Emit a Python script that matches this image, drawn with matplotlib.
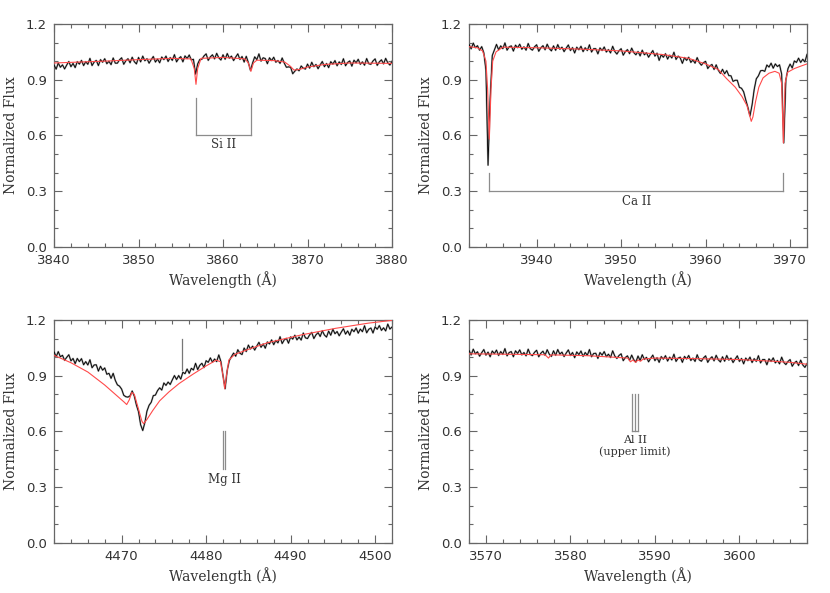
import numpy as np
import matplotlib
matplotlib.use('Agg')
from matplotlib import pyplot as plt
from matplotlib.ticker import MultipleLocator, FormatStrFormatter

# observed spectra: flux in units of 1e-3, on a regular 0.25 A pixel grid
# ---- Si II panel (3840-3880) ----
w1_start, w1_step = 3840.0, 0.25
flux1 = [979, 957, 990, 967, 980, 958, 979, 998, 970, 988,
         965, 997, 984, 1004, 976, 997, 983, 1015, 976, 995,
         1004, 976, 1008, 994, 1013, 986, 999, 981, 1017, 989,
         989, 1007, 1018, 983, 1002, 1013, 991, 1021, 997, 985,
         1020, 996, 1027, 1002, 1013, 989, 1008, 1025, 995, 1011,
         991, 1022, 1008, 1027, 998, 1019, 1004, 1035, 996, 1014,
         1024, 996, 1028, 1014, 1033, 1006, 1010, 930, 985, 1009,
         1010, 1028, 1039, 1004, 1023, 1034, 1012, 1042, 1018, 1006,
         1034, 1010, 1041, 1016, 1027, 1003, 1022, 1039, 1009, 1025,
         995, 1026, 992, 950, 990, 1023, 1008, 1039, 1000, 1018,
         1014, 986, 1018, 1003, 1021, 994, 1003, 988, 1017, 989,
         967, 969, 967, 932, 946, 958, 948, 974, 962, 957,
         984, 962, 994, 970, 982, 959, 980, 998, 970, 987,
         965, 997, 984, 1003, 975, 996, 982, 1013, 975, 993,
         1001, 973, 1005, 991, 1010, 983, 996, 978, 1014, 986,
         983, 1001, 1012, 977, 996, 1007, 985, 1015, 991, 979, 999]
model1_w = [3840, 3843, 3846, 3850, 3854, 3856.2, 3856.6, 3856.8, 3857.0, 3857.4,
            3860, 3862.6, 3863.0, 3863.3, 3863.6, 3864.0, 3866, 3867.3, 3867.9,
            3868.4, 3869, 3870, 3872, 3875, 3880]
model1_f = [0.99, 0.995, 1.0, 1.008, 1.015, 1.012, 0.96, 0.875, 0.96, 1.015,
            1.02, 1.012, 0.99, 0.945, 0.99, 1.005, 1.003, 0.995, 0.975,
            0.952, 0.955, 0.968, 0.982, 0.99, 0.988]

# ---- Ca II panel (3932-3972) ----
w2_start, w2_step = 3932.0, 0.25
flux2 = [1090, 1066, 1097, 1072, 1083, 1059, 1078, 1045, 950, 440,
         800, 1030, 1060, 1090, 1061, 1082, 1067, 1098, 1059, 1077,
         1082, 1054, 1086, 1072, 1091, 1064, 1077, 1059, 1095, 1067,
         1059, 1077, 1088, 1053, 1072, 1083, 1061, 1091, 1067, 1055,
         1082, 1058, 1089, 1064, 1075, 1051, 1070, 1087, 1057, 1073,
         1044, 1075, 1061, 1080, 1051, 1072, 1057, 1088, 1049, 1067,
         1067, 1039, 1071, 1057, 1076, 1049, 1062, 1044, 1080, 1052,
         1038, 1056, 1067, 1032, 1051, 1062, 1040, 1070, 1046, 1034,
         1052, 1028, 1059, 1034, 1045, 1021, 1040, 1057, 1027, 1043,
         1004, 1035, 1021, 1040, 1011, 1032, 1017, 1048, 1009, 1027,
         1017, 988, 1019, 1004, 1021, 993, 1006, 989, 1019, 992,
         978, 992, 999, 960, 975, 982, 955, 980, 951, 934,
         956, 932, 949, 922, 921, 891, 897, 897, 859, 854,
         835, 792, 752, 705, 765, 848, 905, 921, 948, 950,
         945, 979, 968, 989, 962, 985, 971, 980, 930, 560,
         900, 960, 984, 963, 1001, 993, 1016, 993, 1010, 996, 1036]
model2_w = [3932, 3933.0, 3933.6, 3934.0, 3934.2, 3934.4, 3934.6, 3934.8, 3935.2, 3936,
            3940, 3945, 3950, 3955, 3958, 3960, 3961.5, 3962.5, 3963.5, 3964.3,
            3964.9, 3965.2, 3965.4, 3965.6, 3965.9, 3966.3, 3966.8, 3967.5, 3968.2,
            3968.7, 3969.0, 3969.2, 3969.4, 3969.7, 3970.5, 3971.2, 3972]
model2_f = [1.078, 1.072, 1.055, 1.0, 0.85, 0.58, 0.85, 1.0, 1.05, 1.075,
            1.072, 1.065, 1.055, 1.035, 1.015, 0.985, 0.955, 0.905, 0.86, 0.81,
            0.76, 0.71, 0.676, 0.70, 0.78, 0.86, 0.91, 0.935, 0.945,
            0.935, 0.88, 0.56, 0.88, 0.94, 0.96, 0.972, 0.985]

# ---- Mg II panel (4462-4502) ----
w3_start, w3_step = 4462.0, 0.25
flux3 = [1029, 1002, 1030, 1002, 1010, 983, 999, 1013, 980, 993,
         965, 993, 976, 992, 959, 976, 958, 986, 943, 958,
         959, 925, 951, 930, 942, 908, 913, 886, 913, 875,
         851, 844, 828, 795, 787, 785, 792, 818, 790, 742,
         706, 636, 605, 648, 710, 741, 757, 793, 796, 820,
         835, 823, 861, 848, 866, 853, 878, 901, 880, 901,
         882, 919, 911, 936, 913, 940, 931, 967, 933, 956,
         967, 944, 981, 972, 996, 973, 990, 976, 1012, 976,
         900, 830, 930, 982, 1003, 1022, 1005, 1040, 1021, 1014,
         1049, 1030, 1065, 1044, 1059, 1038, 1060, 1080, 1053, 1071,
         1048, 1082, 1071, 1093, 1067, 1090, 1077, 1110, 1073, 1093,
         1101, 1075, 1109, 1097, 1118, 1093, 1108, 1092, 1130, 1104,
         1100, 1120, 1133, 1100, 1120, 1132, 1111, 1142, 1119, 1108,
         1140, 1118, 1150, 1126, 1138, 1115, 1135, 1153, 1124, 1141,
         1118, 1150, 1137, 1157, 1129, 1151, 1137, 1169, 1131, 1150,
         1157, 1130, 1163, 1150, 1170, 1144, 1158, 1141, 1178, 1151, 1162]
spike3_w = [4477.2, 4477.2]
spike3_f = [0.93, 1.10]
model3_w = [4462, 4464, 4466, 4468, 4469.5, 4470.3, 4470.6, 4470.9, 4471.2, 4471.5,
            4472.0, 4472.4, 4472.6, 4473.0, 4473.7, 4474.5, 4475.6, 4476.8, 4478.4,
            4480, 4481.2, 4481.7, 4482.0, 4482.2, 4482.4, 4482.7, 4483.4, 4485.3,
            4487.3, 4491.3, 4495.3, 4499.2, 4502]
model3_f = [1.01, 0.97, 0.92, 0.85, 0.79, 0.758, 0.745, 0.77, 0.81, 0.80,
            0.72, 0.655, 0.642, 0.665, 0.714, 0.765, 0.813, 0.858, 0.907,
            0.953, 0.984, 0.975, 0.90, 0.83, 0.90, 0.985, 1.015, 1.047,
            1.078, 1.12, 1.155, 1.183, 1.198]

# ---- Al II panel (3568-3608) ----
w4_start, w4_step = 3568.0, 0.25
flux4 = [1036, 1012, 1043, 1018, 1029, 1005, 1024, 1041, 1011, 1027,
         1002, 1033, 1019, 1038, 1009, 1030, 1015, 1046, 1007, 1025,
         1030, 1002, 1034, 1020, 1039, 1012, 1025, 1007, 1043, 1015,
         1008, 1026, 1037, 1002, 1021, 1032, 1010, 1040, 1016, 1004,
         1034, 1010, 1041, 1016, 1027, 1003, 1022, 1039, 1009, 1025,
         997, 1028, 1014, 1033, 1004, 1025, 1010, 1041, 1002, 1020,
         1021, 993, 1025, 1011, 1030, 1003, 1016, 998, 1034, 1006,
         993, 1009, 1018, 981, 998, 1007, 983, 1011, 986, 974,
         1006, 982, 1013, 988, 999, 975, 994, 1011, 981, 997,
         972, 1003, 989, 1008, 979, 1000, 985, 1016, 977, 995,
         1000, 972, 1004, 990, 1009, 982, 995, 977, 1013, 985,
         978, 996, 1007, 972, 991, 1002, 980, 1010, 986, 974,
         1002, 978, 1009, 984, 995, 971, 990, 1007, 977, 993,
         964, 995, 981, 1000, 971, 992, 977, 1008, 969, 987,
         987, 959, 991, 977, 996, 969, 982, 964, 1000, 972,
         960, 977, 987, 951, 969, 978, 955, 984, 958, 945, 965]
model4_w = [3568, 3572, 3577, 3577.4, 3577.7, 3578, 3582, 3585, 3586.8, 3587.1,
            3587.4, 3587.7, 3588.0, 3588.3, 3588.6, 3590, 3595, 3600, 3604, 3606, 3608]
model4_f = [1.018, 1.016, 1.013, 0.995, 1.012, 1.012, 1.008, 1.0, 0.995, 0.975,
            0.985, 0.972, 0.985, 0.978, 0.99, 0.995, 0.992, 0.987, 0.978, 0.972, 0.962]

xlims = [(3840, 3880), (3932, 3972), (4462, 4502), (3568, 3608)]

# line identifications
si_lines = [3856.8, 3863.3]
ca_lines = [3934.4, 3969.2]
mg_lines = [4482.05, 4482.2]
al_lines = [3587.3, 3587.7, 3588.0]

TXT = '#333333'
AXC = '#666666'
MARK = '#8c8c8c'
RED = '#ff4a4a'
SERIF = 'DejaVu Serif'

fig = plt.figure(figsize=(8.3, 5.93), dpi=100)
positions = [[0.0651, 0.5835, 0.4072, 0.3761],
             [0.5651, 0.5835, 0.4072, 0.3761],
             [0.0651, 0.0843, 0.4072, 0.3761],
             [0.5651, 0.0843, 0.4072, 0.3761]]
spectra = [(w1_start, w1_step, flux1, model1_w, model1_f),
           (w2_start, w2_step, flux2, model2_w, model2_f),
           (w3_start, w3_step, flux3, model3_w, model3_f),
           (w4_start, w4_step, flux4, model4_w, model4_f)]

axes = []
for k, (pos, spec) in enumerate(zip(positions, spectra)):
    ax = fig.add_axes(pos)
    w0, dw, fl, mw, mf = spec
    fl = np.array(fl) / 1000.0
    wav = w0 + dw * np.arange(len(fl))
    ax.plot(wav, fl, color='#a0a0a0', lw=1.3, zorder=2)
    ax.plot(wav, fl, color='black', lw=0.6, zorder=3)
    ax.plot(mw, mf, color=RED, lw=0.8, zorder=4)

    ax.set_xlim(*xlims[k])
    ax.set_ylim(0, 1.2)
    ax.xaxis.set_major_locator(MultipleLocator(10))
    ax.xaxis.set_minor_locator(MultipleLocator(2))
    ax.yaxis.set_major_locator(MultipleLocator(0.3))
    ax.yaxis.set_minor_locator(MultipleLocator(0.1))
    ax.yaxis.set_major_formatter(FormatStrFormatter('%.1f'))
    ax.tick_params(which='both', direction='in', top=True, right=True,
                   color=AXC, labelcolor=TXT, labelsize=9.5, width=0.8)
    ax.tick_params(which='major', length=6, pad=5)
    ax.tick_params(which='minor', length=3)
    for s in ax.spines.values():
        s.set_color(AXC)
        s.set_linewidth(0.9)
    ax.set_xlabel('Wavelength (Å)', family=SERIF, fontsize=10, color=TXT, labelpad=3)
    ax.set_ylabel('Normalized Flux', family=SERIF, fontsize=10, color=TXT, labelpad=6)
    axes.append(ax)

# cosmic-ray spike in the Mg II panel
axes[2].plot(spike3_w, spike3_f, color='#777777', lw=0.9, zorder=3)

# Si II bracket
ax = axes[0]
for x in si_lines:
    ax.plot([x, x], [0.8, 0.6], color=MARK, lw=0.9)
ax.plot(si_lines, [0.6, 0.6], color=MARK, lw=0.9)
ax.text(np.mean(si_lines), 0.55, 'Si II', family=SERIF, fontsize=8.5, color=TXT,
        ha='center', va='center')

# Ca II bracket
ax = axes[1]
for x in ca_lines:
    ax.plot([x, x], [0.4, 0.3], color=MARK, lw=0.9)
ax.plot(ca_lines, [0.3, 0.3], color=MARK, lw=0.9)
ax.text(np.mean(ca_lines), 0.245, 'Ca II', family=SERIF, fontsize=8.5, color=TXT,
        ha='center', va='center')

# Mg II marker
ax = axes[2]
for x in mg_lines:
    ax.plot([x, x], [0.6, 0.4], color=MARK, lw=0.9)
ax.text(np.mean(mg_lines), 0.34, 'Mg II', family=SERIF, fontsize=8.5, color=TXT,
        ha='center', va='center')

# Al II marker
ax = axes[3]
for x in al_lines:
    ax.plot([x, x], [0.8, 0.6], color=MARK, lw=0.9)
ax.plot([al_lines[0], al_lines[-1]], [0.6, 0.6], color=MARK, lw=0.9)
ax.text(np.mean(al_lines), 0.552, 'Al II', family=SERIF, fontsize=8, color=TXT,
        ha='center', va='center')
ax.text(np.mean(al_lines), 0.492, '(upper limit)', family=SERIF, fontsize=8,
        color=TXT, ha='center', va='center')

fig.savefig('out.png', dpi=100)
